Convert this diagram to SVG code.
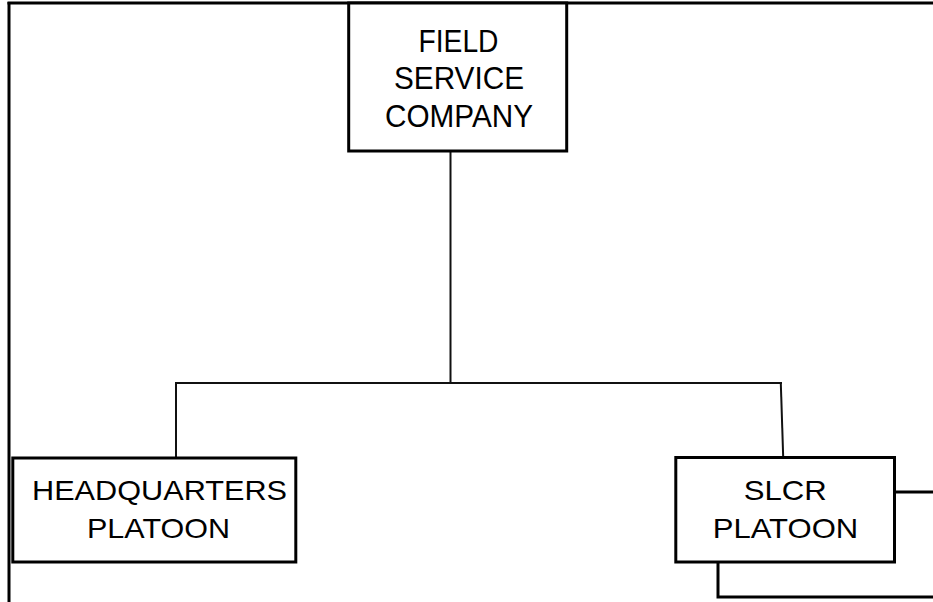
<svg xmlns="http://www.w3.org/2000/svg" width="933" height="602" viewBox="0 0 933 602">
<style>
.box{fill:#fff;stroke:#000;stroke-width:3}
.t{font-family:"Liberation Sans",Arial,sans-serif;font-size:28px;fill:#000;text-anchor:middle}
.tt{font-family:"Liberation Sans",Arial,sans-serif;font-size:31px;fill:#000;text-anchor:middle}
.c{fill:none;stroke:#111;stroke-width:2}
.b{fill:none;stroke:#000;stroke-width:3}
</style>
<rect width="933" height="602" fill="#fff"/>
<g id="frame">
<line class="b" x1="7.5" y1="3" x2="933" y2="3"/>
<line class="b" x1="9" y1="2" x2="9" y2="602" stroke-width="3.4"/>
</g>
<g id="connectors">
<line class="c" x1="450.5" y1="151" x2="450.5" y2="383"/>
<line class="c" x1="175" y1="383" x2="782" y2="383"/>
<line class="c" x1="176" y1="383" x2="176" y2="457"/>
<line class="c" x1="780.8" y1="383" x2="783.2" y2="457"/>
<line class="b" x1="894.5" y1="492" x2="933" y2="492"/>
<path class="b" d="M718 562 V597 H933"/>
</g>
<g id="field-service-company">
<rect class="box" x="348.7" y="3" width="218" height="148"/>
<text class="tt" x="458.5" y="52" textLength="80" lengthAdjust="spacingAndGlyphs">FIELD</text>
<text class="tt" x="459" y="89" textLength="130" lengthAdjust="spacingAndGlyphs">SERVICE</text>
<text class="tt" x="459" y="126.5" textLength="148" lengthAdjust="spacingAndGlyphs">COMPANY</text>
</g>
<g id="headquarters-platoon">
<rect class="box" x="12.8" y="458" width="283" height="104"/>
<text class="t" x="159.5" y="500" textLength="255" lengthAdjust="spacingAndGlyphs">HEADQUARTERS</text>
<text class="t" x="158.5" y="537.5" textLength="143" lengthAdjust="spacingAndGlyphs">PLATOON</text>
</g>
<g id="slcr-platoon">
<rect class="box" x="675.8" y="457.5" width="218.7" height="104.5"/>
<text class="t" x="785.3" y="500" textLength="83" lengthAdjust="spacingAndGlyphs">SLCR</text>
<text class="t" x="785.5" y="537.5" textLength="145.5" lengthAdjust="spacingAndGlyphs">PLATOON</text>
</g>
</svg>
